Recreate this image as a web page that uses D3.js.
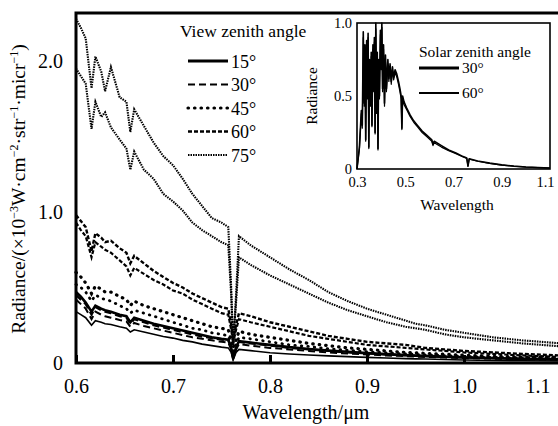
<!DOCTYPE html>
<html>
<head>
<meta charset="utf-8">
<script src="https://cdn.jsdelivr.net/npm/d3@7"></script>
<style>
  body { margin: 0; background: #fff; }
  svg { display: block; }
  text { font-family: "Liberation Serif", "Times New Roman", "DejaVu Serif", serif; fill: #000; }
</style>
</head>
<body>
<svg id="chart" width="558" height="426" font-family="Liberation Serif, serif"></svg>
<script>
// wavelength grid (um) shared by all main-plot curves
const wl = [0.600, 0.605, 0.610, 0.616, 0.620, 0.626, 0.630, 0.636, 0.645, 0.652, 0.656, 0.660,
  0.670, 0.680, 0.690, 0.700, 0.710, 0.720, 0.730, 0.740, 0.750, 0.757, 0.760, 0.762, 0.765,
  0.768, 0.780, 0.800, 0.820, 0.840, 0.860, 0.880, 0.900, 0.920, 0.940, 0.950, 0.960, 0.980,
  1.000, 1.030, 1.060, 1.100, 1.130];

// radiance, two solar angles per view zenith angle
const r15a = [0.47, 0.44, 0.40, 0.34, 0.38, 0.36, 0.35, 0.34, 0.32, 0.31, 0.27, 0.30, 0.28, 0.26, 0.245, 0.23, 0.215, 0.20, 0.185, 0.17, 0.16, 0.155, 0.10, 0.03, 0.10, 0.145, 0.135, 0.12, 0.105, 0.093, 0.083, 0.074, 0.066, 0.059, 0.053, 0.05, 0.047, 0.042, 0.038, 0.033, 0.028, 0.024, 0.021];
const r15b = [0.34, 0.32, 0.30, 0.25, 0.28, 0.27, 0.26, 0.255, 0.24, 0.23, 0.205, 0.22, 0.205, 0.19, 0.175, 0.165, 0.15, 0.14, 0.125, 0.115, 0.105, 0.10, 0.07, 0.02, 0.07, 0.09, 0.082, 0.068, 0.06, 0.053, 0.047, 0.042, 0.037, 0.033, 0.029, 0.027, 0.026, 0.023, 0.02, 0.017, 0.015, 0.013, 0.011];
const r30a = [0.45, 0.42, 0.39, 0.32, 0.37, 0.35, 0.34, 0.33, 0.31, 0.30, 0.26, 0.29, 0.27, 0.25, 0.235, 0.22, 0.205, 0.19, 0.175, 0.165, 0.155, 0.15, 0.10, 0.04, 0.10, 0.14, 0.13, 0.115, 0.10, 0.09, 0.08, 0.07, 0.063, 0.056, 0.05, 0.047, 0.045, 0.04, 0.036, 0.031, 0.027, 0.023, 0.02];
const r30b = [0.42, 0.39, 0.36, 0.29, 0.34, 0.32, 0.31, 0.30, 0.285, 0.275, 0.24, 0.265, 0.245, 0.23, 0.215, 0.20, 0.185, 0.17, 0.16, 0.15, 0.14, 0.135, 0.09, 0.035, 0.09, 0.125, 0.115, 0.10, 0.09, 0.08, 0.07, 0.063, 0.056, 0.05, 0.045, 0.042, 0.04, 0.036, 0.032, 0.028, 0.024, 0.02, 0.018];
const r45a = [0.60, 0.57, 0.53, 0.46, 0.51, 0.49, 0.47, 0.47, 0.44, 0.42, 0.38, 0.41, 0.38, 0.36, 0.34, 0.32, 0.30, 0.28, 0.26, 0.24, 0.23, 0.22, 0.15, 0.10, 0.15, 0.21, 0.19, 0.17, 0.15, 0.13, 0.115, 0.10, 0.09, 0.08, 0.07, 0.067, 0.064, 0.058, 0.052, 0.045, 0.04, 0.035, 0.03];
const r45b = [0.52, 0.50, 0.47, 0.41, 0.45, 0.43, 0.42, 0.41, 0.38, 0.36, 0.33, 0.35, 0.33, 0.31, 0.29, 0.27, 0.25, 0.23, 0.22, 0.20, 0.19, 0.18, 0.12, 0.08, 0.12, 0.17, 0.16, 0.14, 0.12, 0.11, 0.095, 0.085, 0.075, 0.067, 0.06, 0.057, 0.054, 0.048, 0.043, 0.037, 0.032, 0.028, 0.025];
const r60a = [0.98, 0.94, 0.90, 0.74, 0.86, 0.83, 0.80, 0.81, 0.76, 0.73, 0.66, 0.71, 0.66, 0.61, 0.57, 0.53, 0.50, 0.46, 0.43, 0.40, 0.37, 0.36, 0.25, 0.15, 0.25, 0.33, 0.31, 0.27, 0.24, 0.21, 0.18, 0.16, 0.14, 0.13, 0.12, 0.11, 0.10, 0.09, 0.08, 0.07, 0.06, 0.05, 0.045];
const r60b = [0.93, 0.88, 0.84, 0.70, 0.80, 0.77, 0.75, 0.73, 0.68, 0.64, 0.58, 0.63, 0.59, 0.55, 0.52, 0.48, 0.46, 0.42, 0.39, 0.36, 0.33, 0.32, 0.22, 0.13, 0.22, 0.29, 0.27, 0.24, 0.21, 0.18, 0.16, 0.14, 0.12, 0.11, 0.10, 0.095, 0.09, 0.08, 0.07, 0.06, 0.05, 0.04, 0.035];
const r75a = [2.28, 2.22, 2.15, 1.82, 2.03, 1.93, 1.80, 1.96, 1.76, 1.73, 1.53, 1.68, 1.57, 1.46, 1.37, 1.31, 1.22, 1.12, 1.04, 0.96, 0.93, 0.90, 0.50, 0.10, 0.45, 0.84, 0.78, 0.70, 0.62, 0.55, 0.47, 0.41, 0.36, 0.32, 0.28, 0.26, 0.25, 0.22, 0.20, 0.17, 0.15, 0.13, 0.12];
const r75b = [1.95, 1.90, 1.85, 1.55, 1.73, 1.63, 1.66, 1.56, 1.48, 1.42, 1.28, 1.40, 1.28, 1.22, 1.12, 1.07, 1.01, 0.93, 0.88, 0.84, 0.80, 0.78, 0.45, 0.12, 0.40, 0.70, 0.65, 0.58, 0.52, 0.46, 0.40, 0.35, 0.31, 0.27, 0.24, 0.23, 0.22, 0.19, 0.17, 0.15, 0.13, 0.11, 0.10];

const viewAngles = ["15°", "30°", "45°", "60°", "75°"];
const xTicks = [0.6, 0.7, 0.8, 0.9, 1.0, 1.1];
const yTicks = [0, 1, 2];

// inset: solar spectrum (normalised)
const solWl = [0.300, 0.310, 0.318, 0.322, 0.326, 0.330, 0.333, 0.336, 0.340, 0.343, 0.346, 0.349,
  0.352, 0.356, 0.359, 0.362, 0.366, 0.369, 0.372, 0.375, 0.378, 0.381, 0.384, 0.387, 0.390,
  0.393, 0.397, 0.400, 0.403, 0.406, 0.410, 0.414, 0.418, 0.422, 0.428, 0.432, 0.437, 0.442,
  0.447, 0.452, 0.458, 0.465, 0.472, 0.478, 0.483, 0.486, 0.489, 0.495, 0.505, 0.520, 0.535,
  0.550, 0.570, 0.590, 0.610, 0.615, 0.620, 0.650, 0.680, 0.710, 0.740, 0.755, 0.760, 0.765,
  0.800, 0.850, 0.900, 0.950, 1.000, 1.050, 1.100];
const sol30 = [0, 0.15, 0.40, 0.30, 0.94, 0.45, 0.85, 0.20, 0.88, 0.50, 0.93, 0.15, 0.75, 0.45,
  0.80, 0.30, 0.85, 0.55, 0.90, 0.25, 1.0, 0.40, 0.80, 0.14, 0.75, 0.50, 0.95, 0.70, 1.0, 0.55,
  0.85, 0.45, 0.78, 0.55, 0.75, 0.62, 0.72, 0.60, 0.70, 0.63, 0.68, 0.65, 0.60, 0.55, 0.50,
  0.28, 0.50, 0.46, 0.42, 0.37, 0.33, 0.30, 0.26, 0.23, 0.20, 0.17, 0.19, 0.16, 0.13, 0.11,
  0.085, 0.075, 0.02, 0.07, 0.055, 0.04, 0.028, 0.02, 0.014, 0.01, 0.007];
const sol60 = [0, 0.14, 0.38, 0.28, 0.90, 0.43, 0.82, 0.19, 0.85, 0.48, 0.90, 0.14, 0.72, 0.43,
  0.77, 0.29, 0.82, 0.53, 0.87, 0.24, 0.96, 0.38, 0.77, 0.13, 0.72, 0.48, 0.92, 0.68, 0.97, 0.53,
  0.82, 0.43, 0.75, 0.53, 0.72, 0.60, 0.70, 0.58, 0.68, 0.61, 0.66, 0.63, 0.58, 0.53, 0.48,
  0.27, 0.48, 0.44, 0.41, 0.36, 0.32, 0.29, 0.25, 0.22, 0.19, 0.16, 0.18, 0.15, 0.125, 0.105,
  0.082, 0.072, 0.02, 0.068, 0.053, 0.038, 0.027, 0.019, 0.013, 0.009, 0.006];
const solarAngles = ["30°", "60°"];

const svg = d3.select("#chart");
const L = 76, T = 13, B = 363, R = 561;

const x = d3.scaleLinear().domain([0.6, 1.1]).range([L, R]);
const y = d3.scaleLinear().domain([0, 2.318]).range([B, T]);

// line styles per view angle
const styles = [
  { dash: null, w: [2.6, 1.6] },
  { dash: "7,4", w: [2.2, 2.0] },
  { dash: "0.5,6", w: [3.2, 2.8], cap: "round" },
  { dash: "4,2", w: [2.4, 2.2] },
  { dash: "1.5,1", w: [2.1, 2.1] }
];
const seriesVals = [[r15a, r15b], [r30a, r30b], [r45a, r45b], [r60a, r60b], [r75a, r75b]];

const line = d3.line().x((d, i) => x(wl[i])).y(d => y(d));

seriesVals.forEach((pair, k) => {
  pair.forEach((vals, j) => {
    svg.append("path")
      .datum(vals)
      .attr("fill", "none")
      .attr("stroke", "#000")
      .attr("stroke-width", styles[k].w[j])
      .attr("stroke-dasharray", styles[k].dash)
      .attr("stroke-linecap", styles[k].cap || "butt")
      .attr("d", line);
  });
});

// frame
svg.append("path")
  .attr("d", `M${R},${T}H${L}V${B}H${R}`)
  .attr("fill", "none").attr("stroke", "#000").attr("stroke-width", 3);

// x axis: inward ticks, labels below
const xAxis = svg.append("g")
  .attr("transform", `translate(0,${B})`)
  .call(d3.axisBottom(x).tickValues(xTicks).tickSizeInner(-8).tickSizeOuter(0)
    .tickPadding(16).tickFormat(d3.format(".1f")));
xAxis.select(".domain").remove();
xAxis.selectAll("line").attr("stroke-width", 3);
xAxis.selectAll("text").attr("font-size", 20).attr("font-family", "Liberation Serif, serif");
xAxis.selectAll(".tick").filter(d => d === 1.1).select("text")
  .attr("text-anchor", "end").attr("dx", -11);

const yAxis = svg.append("g")
  .attr("transform", `translate(${L},0)`)
  .call(d3.axisLeft(y).tickValues(yTicks).tickSize(0).tickPadding(13)
    .tickFormat(d => d === 0 ? "0" : d3.format(".1f")(d)));
yAxis.select(".domain").remove();
yAxis.selectAll("text").attr("font-size", 20).attr("font-family", "Liberation Serif, serif");

// axis titles
svg.append("text")
  .attr("x", 306).attr("y", 419)
  .attr("text-anchor", "middle").attr("font-size", 20)
  .text("Wavelength/μm");

const yt = svg.append("text")
  .attr("transform", `translate(25,189) rotate(-90)`)
  .attr("text-anchor", "middle").attr("font-size", 19.5);
[["Radiance/(×10", 0], ["−3", 1], ["W·cm", 0], ["−2", 1], ["·str", 0], ["−1", 1], ["·micr", 0], ["−1", 1], [")", 0]]
  .forEach(([s, sup], i) => {
    const t = yt.append("tspan").text(s);
    if (sup) t.attr("font-size", 12).attr("dy", -7);
    else if (i > 0) t.attr("dy", 7);
  });

// legend (view zenith angle)
svg.append("text").attr("x", 180).attr("y", 37).attr("font-size", 17.5).text("View zenith angle");
viewAngles.forEach((a, k) => {
  const ly = 61 + k * 23.5;
  svg.append("line")
    .attr("x1", 188).attr("x2", 228).attr("y1", ly).attr("y2", ly)
    .attr("stroke", "#000")
    .attr("stroke-width", k === 0 ? 3 : styles[k].w[0])
    .attr("stroke-dasharray", styles[k].dash)
    .attr("stroke-linecap", styles[k].cap || "butt");
  svg.append("text").attr("x", 231).attr("y", ly + 6.5).attr("font-size", 18).text(a);
});

// inset
const iL = 357, iR = 550, iT = 23, iB = 169;
const ix = d3.scaleLinear().domain([0.3, 1.1]).range([iL, iR]);
const iy = d3.scaleLinear().domain([0, 1]).range([iB, iT]);

svg.append("rect")
  .attr("x", iL).attr("y", iT).attr("width", iR - iL).attr("height", iB - iT)
  .attr("fill", "#fff");

const iLine = d3.line().x((d, i) => ix(solWl[i])).y(d => iy(d));
[[sol30, 1.6], [sol60, 1.2]].forEach(([vals, w]) => {
  svg.append("path").datum(vals)
    .attr("fill", "none").attr("stroke", "#000").attr("stroke-width", w)
    .attr("stroke-linejoin", "round")
    .attr("d", iLine);
});

svg.append("rect")
  .attr("x", iL).attr("y", iT).attr("width", iR - iL).attr("height", iB - iT)
  .attr("fill", "none").attr("stroke", "#000").attr("stroke-width", 1.6);

const ixAxis = svg.append("g")
  .attr("transform", `translate(0,${iB})`)
  .call(d3.axisBottom(ix).tickValues([0.3, 0.5, 0.7, 0.9, 1.1]).tickSize(0).tickPadding(8)
    .tickFormat(d3.format(".1f")));
ixAxis.select(".domain").remove();
ixAxis.selectAll("text").attr("font-size", 14.5).attr("font-family", "Liberation Serif, serif");
ixAxis.selectAll(".tick").filter(d => d === 1.1).select("text")
  .attr("text-anchor", "end").attr("dx", 4);

const iyAxis = svg.append("g")
  .attr("transform", `translate(${iL},0)`)
  .call(d3.axisLeft(iy).tickValues([0, 0.5, 1]).tickSize(0).tickPadding(5)
    .tickFormat(d => d === 0 ? "0" : d3.format(".1f")(d)));
iyAxis.select(".domain").remove();
iyAxis.selectAll("text").attr("font-size", 14.5).attr("font-family", "Liberation Serif, serif");

svg.append("text")
  .attr("transform", `translate(317,96) rotate(-90)`)
  .attr("text-anchor", "middle").attr("font-size", 15.5).text("Radiance");
svg.append("text")
  .attr("x", 457).attr("y", 210)
  .attr("text-anchor", "middle").attr("font-size", 15.5).text("Wavelength");

svg.append("text").attr("x", 419).attr("y", 57).attr("font-size", 15.5).text("Solar zenith angle");
solarAngles.forEach((a, k) => {
  const ly = 68 + k * 25;
  svg.append("line")
    .attr("x1", 419).attr("x2", 459).attr("y1", ly).attr("y2", ly)
    .attr("stroke", "#000").attr("stroke-width", k === 0 ? 3 : 2);
  svg.append("text").attr("x", 462).attr("y", ly + 5).attr("font-size", 15.5).text(a);
});
</script>
</body>
</html>
